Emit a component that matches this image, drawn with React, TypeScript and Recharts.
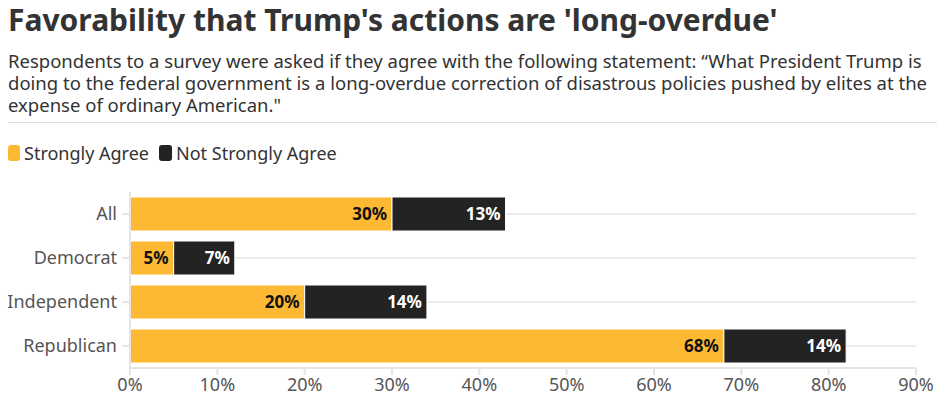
import React from "react";
import { BarChart, Bar, XAxis, YAxis, CartesianGrid, LabelList } from "recharts";

const categories = ["All", "Democrat", "Independent", "Republican"];
const stronglyAgree = [30, 5, 20, 68];
const notStronglyAgree = [13, 7, 14, 14];
const xTicks = [0, 10, 20, 30, 40, 50, 60, 70, 80, 90];

const data = categories.map((c, i) => ({
  name: c,
  strong: stronglyAgree[i],
  notStrong: notStronglyAgree[i],
}));

const FONT = "'Noto Sans', sans-serif";
const YELLOW = "#FDB933";
const BLACK = "#232323";

const rowCenters = (args: any) => {
  const off = args.offset;
  const n = categories.length;
  return categories.map((_, i) => off.top + (off.height * (i + 0.5)) / n);
};

export default function App() {
  return (
    <div style={{ position: "absolute", left: 0, top: 0, width: 945, height: 405, background: "#fff", fontFamily: FONT, overflow: "hidden" }}>
      <div style={{ position: "absolute", left: 8, top: 2, fontSize: 30, fontWeight: 700, color: "#333", whiteSpace: "nowrap", lineHeight: "36px" }}>
        Favorability that Trump's actions are 'long-overdue'
      </div>
      <div style={{ position: "absolute", left: 8, top: 50, width: 925, fontSize: 18.5, color: "#333", lineHeight: "22px" }}>
        Respondents to a survey were asked if they agree with the following statement: “What President Trump is doing to the federal government is a long-overdue correction of disastrous policies pushed by elites at the expense of ordinary American."
      </div>
      <div style={{ position: "absolute", left: 8, top: 122, width: 929, height: 1, background: "#dcdcdc" }} />
      <div style={{ position: "absolute", left: 8, top: 143, display: "flex", alignItems: "center", fontSize: 18, color: "#333", lineHeight: "20px" }}>
        <span style={{ display: "inline-block", width: 12, height: 16, borderRadius: 3, background: YELLOW, marginRight: 4 }} />
        <span style={{ marginRight: 10 }}>Strongly Agree</span>
        <span style={{ display: "inline-block", width: 13, height: 16, borderRadius: 3, background: BLACK, marginRight: 4 }} />
        <span>Not Strongly Agree</span>
      </div>
      <div style={{ position: "absolute", left: 0, top: 180 }}>
        <BarChart
          width={945}
          height={225}
          data={data}
          layout="vertical"
          margin={{ top: 12, right: 29, bottom: 7, left: 0 }}
        >
          <CartesianGrid
            horizontal={true}
            vertical={false}
            stroke="#ebebeb"
            strokeWidth={2}
            horizontalCoordinatesGenerator={rowCenters}
          />
          <XAxis
            type="number"
            domain={[0, 90]}
            ticks={xTicks}
            tickFormatter={(v) => `${v}%`}
            height={30}
            axisLine={{ stroke: "#e4e4e4", strokeWidth: 2 }}
            tickLine={{ stroke: "#e4e4e4", strokeWidth: 2 }}
            tickSize={7}
            tickMargin={3}
            tick={{ fill: "#555", fontSize: 18, fontFamily: FONT }}
            interval={0}
          />
          <YAxis
            type="category"
            dataKey="name"
            width={130}
            axisLine={{ stroke: "#e4e4e4", strokeWidth: 2 }}
            tickLine={{ stroke: "#e4e4e4", strokeWidth: 2 }}
            tickSize={8}
            tickMargin={5}
            tick={{ fill: "#555", fontSize: 18, fontFamily: FONT }}
          />
          <Bar dataKey="strong" stackId="a" fill={YELLOW} stroke="#ffffff" strokeWidth={1} barSize={34} isAnimationActive={false}>
            <LabelList dataKey="strong" position="insideRight" formatter={(v: any) => `${v}%`} style={{ fill: "#111", fontWeight: 700, fontSize: 17, fontFamily: FONT }} />
          </Bar>
          <Bar dataKey="notStrong" stackId="a" fill={BLACK} stroke="#ffffff" strokeWidth={1} barSize={34} isAnimationActive={false}>
            <LabelList dataKey="notStrong" position="insideRight" formatter={(v: any) => `${v}%`} style={{ fill: "#fff", fontWeight: 700, fontSize: 17, fontFamily: FONT }} />
          </Bar>
        </BarChart>
      </div>
    </div>
  );
}
